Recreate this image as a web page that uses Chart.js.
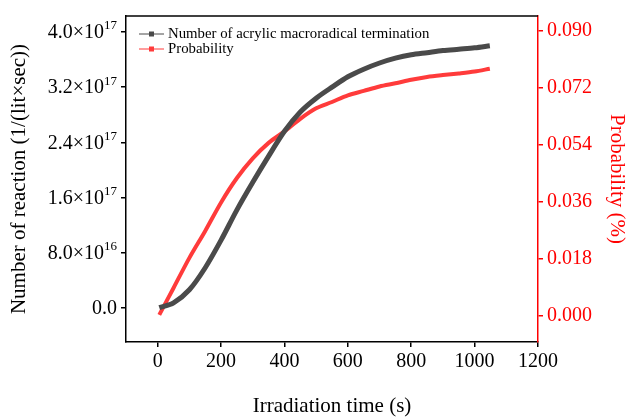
<!DOCTYPE html>
<html>
<head>
<meta charset="utf-8">
<script src="https://cdn.jsdelivr.net/npm/chart.js@4.4.1/dist/chart.umd.min.js"></script>
<style>
  html, body { margin: 0; padding: 0; background: #fff; }
</style>
</head>
<body>
<canvas id="chart" width="629" height="420"></canvas>
<script>
// values
const timeS = [5, 50, 100, 150, 200, 250, 300, 350, 400, 450, 500, 550, 600, 650, 700, 750, 800, 850, 900, 950, 1000, 1048];
const terminations = [0.00e17, 0.07e17, 0.26e17, 0.58e17, 0.98e17, 1.42e17, 1.82e17, 2.20e17, 2.56e17, 2.84e17, 3.04e17,
                      3.20e17, 3.35e17, 3.46e17, 3.55e17, 3.62e17, 3.67e17, 3.70e17, 3.73e17, 3.75e17, 3.77e17, 3.80e17];
const probability = [0.0003, 0.0088, 0.0183, 0.0268, 0.0358, 0.0435, 0.0497, 0.0546, 0.0582, 0.0622, 0.0655,
                     0.0675, 0.0696, 0.0710, 0.0724, 0.0734, 0.0745, 0.0754, 0.0760, 0.0765, 0.0771, 0.0780];
const seriesNames = ['Number of acrylic macroradical termination', 'Probability'];

const xTicks = [0, 200, 400, 600, 800, 1000, 1200];
const leftTicks = [0, 0.8e17, 1.6e17, 2.4e17, 3.2e17, 4.0e17];
const leftTickLabels = ['0.0', '8.0×10^16', '1.6×10^17', '2.4×10^17', '3.2×10^17', '4.0×10^17'];
const rightTicks = [0, 0.018, 0.036, 0.054, 0.072, 0.090];

const SERIF = '"Liberation Serif", "Times New Roman", serif';
const BLACK = '#4a4a4a';
const RED = '#ff3b3b';

const ticksFrom = arr => scale => { scale.ticks = arr.map(v => ({ value: v })); };

// top frame line, left tick labels with superscripts, legend in the corner
const decorations = {
    id: 'decorations',
    afterDraw(chart) {
        const ctx = chart.ctx;
        const a = chart.chartArea;
        ctx.save();

        ctx.strokeStyle = '#000';
        ctx.lineWidth = 1.5;
        ctx.beginPath();
        ctx.moveTo(a.left, a.top);
        ctx.lineTo(a.right, a.top);
        ctx.stroke();

        const yS = chart.scales.y;
        ctx.fillStyle = '#000';
        ctx.textAlign = 'right';
        ctx.textBaseline = 'middle';
        leftTicks.forEach((v, i) => {
            const py = yS.getPixelForValue(v);
            const [base, exp] = leftTickLabels[i].split('^');
            let xr = yS.right - 9;
            if (exp) {
                ctx.font = '13px ' + SERIF;
                ctx.fillText(exp, xr, py - 6);
                xr -= ctx.measureText(exp).width;
            }
            ctx.font = '20px ' + SERIF;
            ctx.fillText(base, xr, py + 1);
        });

        ctx.textAlign = 'left';
        ctx.font = '14.8px ' + SERIF;
        chart.data.datasets.forEach((ds, i) => {
            const y = a.top + 18 + i * 15;
            const x0 = a.left + 13;
            ctx.strokeStyle = ds.borderColor;
            ctx.lineWidth = 1;
            ctx.beginPath();
            ctx.moveTo(x0, y);
            ctx.lineTo(x0 + 25, y);
            ctx.stroke();
            ctx.fillStyle = ds.borderColor;
            ctx.fillRect(x0 + 10, y - 2.5, 5, 5);
            ctx.fillStyle = '#000';
            ctx.fillText(ds.label, x0 + 29, y);
        });
        ctx.restore();
    }
};

new Chart(document.getElementById('chart'), {
    type: 'line',
    data: {
        datasets: [
            { label: seriesNames[0], data: timeS.map((t, i) => ({ x: t, y: terminations[i] })),
              borderColor: BLACK, borderWidth: 5, yAxisID: 'y', tension: 0.3 },
            { label: seriesNames[1], data: timeS.map((t, i) => ({ x: t, y: probability[i] })),
              borderColor: RED, borderWidth: 4, yAxisID: 'y1', tension: 0.3 }
        ]
    },
    options: {
        responsive: false,
        animation: false,
        layout: { padding: { top: 9, left: 0, right: 0, bottom: 0 } },
        elements: { point: { radius: 0 } },
        plugins: { legend: { display: false }, tooltip: { enabled: false } },
        scales: {
            x: {
                type: 'linear', min: -100, max: 1200,
                afterBuildTicks: ticksFrom(xTicks),
                afterFit: s => { s.height = 78; },
                border: { color: '#000', width: 1.5 },
                grid: { drawOnChartArea: false, tickLength: 5, color: '#000', lineWidth: 1.5 },
                ticks: { font: { family: SERIF, size: 20 }, color: '#000', padding: 3, maxRotation: 0, autoSkip: false,
                         callback: v => String(v) },
                title: { display: true, text: 'Irradiation time (s)', color: '#000',
                         font: { family: SERIF, size: 21 }, padding: { top: 0, bottom: 1 } }
            },
            y: {
                type: 'linear', position: 'left', min: -0.4975e17, max: 4.232e17,
                afterBuildTicks: ticksFrom(leftTicks),
                afterFit: s => { s.width = 126; },
                border: { color: '#000', width: 1.5 },
                grid: { drawOnChartArea: false, tickLength: 5, color: '#000', lineWidth: 1.5 },
                ticks: { display: false },
                title: { display: true, text: 'Number of reaction (1/(lit×sec))', color: '#000',
                         font: { family: SERIF, size: 21 }, padding: { top: 7, bottom: 0 } }
            },
            y1: {
                type: 'linear', position: 'right', min: -0.00826, max: 0.09464,
                afterBuildTicks: ticksFrom(rightTicks),
                afterFit: s => { s.width = 91; },
                border: { color: '#ff0000', width: 1.5 },
                grid: { drawOnChartArea: false, tickLength: 5, color: '#ff0000', lineWidth: 1.5 },
                ticks: { font: { family: SERIF, size: 20 }, color: '#ff0000', padding: 4,
                         callback: v => v.toFixed(3) },
                title: { display: true, text: 'Probability (%)', color: '#ff0000',
                         font: { family: SERIF, size: 21 }, padding: { top: 0, bottom: 0 } }
            }
        }
    },
    plugins: [decorations]
});
</script>
</body>
</html>
